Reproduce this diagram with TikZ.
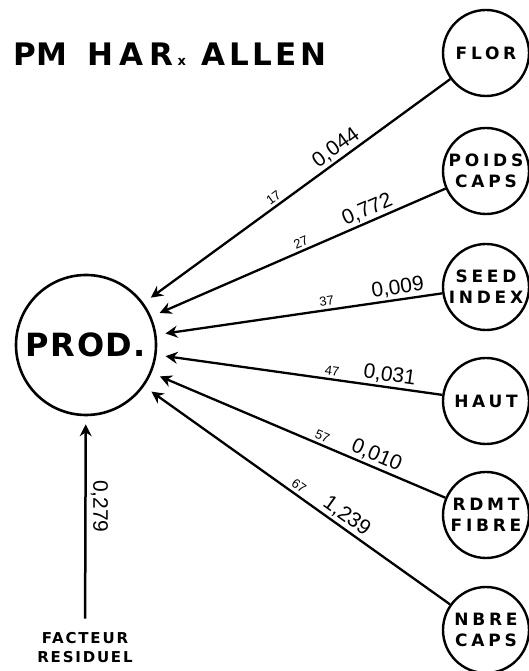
\documentclass[tikz,border=0pt]{standalone}
\usepackage{fontspec}
\usetikzlibrary{arrows.meta}
\setmainfont{DejaVu Sans}
\newfontfamily\headfont{DejaVu Sans}
\newfontfamily\circfont{DejaVu Sans}[LetterSpace=22]
\newfontfamily\basefont{DejaVu Sans}[LetterSpace=12]
\newfontfamily\numfont{Liberation Sans}

\tikzset{
  prodnode/.style={circle, draw, line width=2.6pt, minimum size=140pt, inner sep=0pt},
  varnode/.style={circle, draw, line width=2.4pt, minimum size=86pt, inner sep=0pt,
    align=center, font=\circfont\bfseries\fontsize{17}{21}\selectfont},
  link/.style={line width=2.3pt, -{Stealth[length=12pt,width=12pt,inset=4pt]}, shorten >=9pt},
  coef/.style={font=\numfont\fontsize{21}{21}\selectfont, sloped, above, inner sep=2pt},
  idx/.style={font=\numfont\fontsize{13}{13}\selectfont, sloped, above, inner sep=3pt},
}

\begin{document}
\begin{tikzpicture}[x=1pt,y=1pt]
  \fill[white] (0,0) rectangle (529,671);
  \useasboundingbox (0,0) rectangle (529,671);

  % heading
  \node[anchor=west, inner sep=0pt] (title) at (13,617)
    {\headfont\bfseries\fontsize{31}{31}\selectfont
     P\kern1pt M\hspace{20pt}H\kern6pt A\kern6pt R\kern4pt{\fontsize{13}{13}\selectfont x}\kern16pt
     A\kern3.5pt L\kern3.5pt L\kern3.5pt E\kern3.5pt N};

  % dependent variable
  \node[prodnode] (prod) at (86,326)
    {\headfont\bfseries\fontsize{32}{32}\selectfont P\kern1.5pt R\kern1.5pt O\kern1.5pt D\kern1.5pt .};

  % explanatory variables
  \node[varnode] (flor) at (486,618) {FLOR};
  \node[varnode] (poids) at (486,500) {POIDS\\CAPS};
  \node[varnode] (seed) at (486,384) {SEED\\INDEX};
  \node[varnode] (haut) at (486,270) {HAUT};
  \node[varnode] (rdmt) at (486,156) {RDMT\\FIBRE};
  \node[varnode] (nbre) at (486,41) {NBRE\\CAPS};

  % residual factor
  \node[align=center, inner sep=2pt, font=\basefont\bfseries\fontsize{15}{19}\selectfont]
    (fact) at (85,23) {FACTEUR\\RESIDUEL};

  % path coefficients
  \draw[link] (flor) -- node[coef, pos=0.35] {0,044} node[idx, pos=0.56] {17} (prod);
  \draw[link] (poids) -- node[coef, pos=0.25] {0,772} node[idx, pos=0.48] {27} (prod);
  \draw[link] (seed) -- node[coef, pos=0.15] {0,009} node[idx, pos=0.40] {37} (prod);
  \draw[link] (haut) -- node[coef, pos=0.19] {0,031} node[idx, pos=0.39] {47} (prod);
  \draw[link] (rdmt) -- node[coef, pos=0.25] {0,010} node[idx, pos=0.43] {57} (prod);
  \draw[link] (nbre) -- node[coef, pos=0.36] {1,239} node[idx, pos=0.51] {67} (prod);

  \draw[link, line width=2.5pt, shorten <=12pt, shorten >=8pt] (fact) --
    node[pos=0.58, rotate=-90, anchor=south, inner sep=4pt,
         font=\numfont\fontsize{21}{21}\selectfont] {0,279} (prod);
\end{tikzpicture}
\end{document}
